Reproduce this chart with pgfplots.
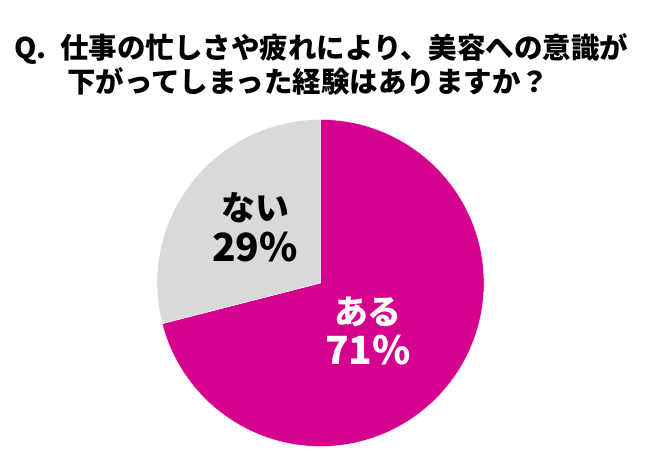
\documentclass[border=0pt]{standalone}
\usepackage{pgfplots}
\usepackage{pgfplotstable}
\pgfplotsset{compat=1.18}
\usepackage{fontspec}
\newfontfamily\jp{Noto Sans CJK JP}

\definecolor{pieMag}{RGB}{213,0,141}
\definecolor{pieGray}{RGB}{217,217,217}

% answer shares in percent
\pgfplotstableread{
label value
aru   71
nai   29
}\piedata

\begin{document}
\begin{tikzpicture}
\useasboundingbox (0,0) rectangle (645bp,475bp);
\pgfplotstablegetelem{0}{value}\of\piedata \edef\valAru{\pgfplotsretval}
\pgfplotstablegetelem{1}{value}\of\piedata \edef\valNai{\pgfplotsretval}

% title
\tikzset{ttl/.style={anchor=base west, inner sep=0pt,
  font=\jp\bfseries\fontsize{28.6}{34}\selectfont}}
\node[ttl] at (14bp,416bp) {Q.};
\node[ttl] at (60bp,416bp) {仕事の忙しさや疲れにより、美容への意識が};
\node[ttl] at (67bp,382bp) {下がってしまった経験はありますか？};

\begin{axis}[
    at={(320.5bp,192bp)}, anchor=center,
    hide axis, scale only axis,
    width=327bp, height=327bp,
    xmin=-1, xmax=1, ymin=-1, ymax=1,
    clip=false,
]
% ある (clockwise from 12 o'clock)
\fill[pieMag, draw=white, line width=0.4bp] (axis cs:0,0) -- (axis cs:0,1)
  arc[start angle=90, end angle={90-\valAru*3.6}, radius=163.5bp] -- cycle;
% ない
\fill[pieGray, draw=white, line width=0.4bp] (axis cs:0,0) -- (axis cs:0,1)
  arc[start angle=90, end angle={90+\valNai*3.6}, radius=163.5bp] -- cycle;

\tikzset{lbl/.style={font=\jp\bfseries\fontsize{34}{39}\selectfont, inner sep=0pt},
         pct/.style={font=\jp\bfseries\fontsize{39}{39}\selectfont, inner sep=0pt}}
\node[lbl, text=black] at (axis cs:-0.40,0.46) {ない};
\node[pct, text=black] at (axis cs:-0.40,0.22) {\valNai\%};
\node[lbl, text=white] at (axis cs:0.29,-0.177) {ある};
\node[pct, text=white] at (axis cs:0.29,-0.41) {\valAru\%};
\end{axis}
\end{tikzpicture}
\end{document}
